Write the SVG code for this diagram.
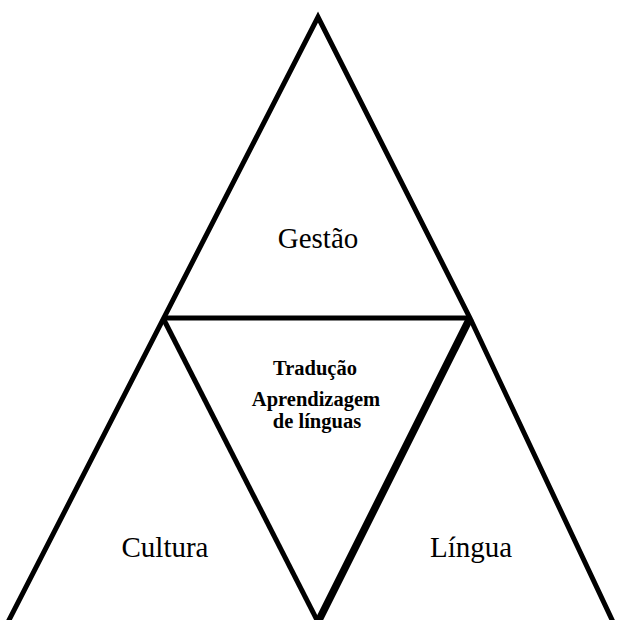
<svg xmlns="http://www.w3.org/2000/svg" width="617" height="620" viewBox="0 0 617 620">
  <style>
    .edge { stroke: #000; stroke-width: 5; fill: none; stroke-linecap: butt; stroke-linejoin: miter; stroke-miterlimit: 10; }
    .thick { stroke-width: 7.5; }
    .label { font-family: "Liberation Serif", "Times New Roman", serif; font-size: 29px; fill: #000; text-anchor: middle; }
    .core { font-family: "Liberation Serif", "Times New Roman", serif; font-size: 20.5px; font-weight: bold; fill: #000; text-anchor: middle; }
  </style>
  <rect width="617" height="620" fill="#fff"/>
  <g id="connectors">
    <polyline class="edge" points="7,624 318,17 470,318 614,624"/>
    <line class="edge" x1="163" y1="318" x2="470" y2="318"/>
    <line class="edge" x1="163" y1="318" x2="318" y2="622"/>
    <line class="edge thick" x1="470" y1="318" x2="318" y2="622"/>
  </g>
  <g id="gestao">
    <text class="label" x="318" y="248">Gestão</text>
  </g>
  <g id="cultura">
    <text class="label" x="165" y="557">Cultura</text>
  </g>
  <g id="lingua">
    <text class="label" x="471" y="557">Língua</text>
  </g>
  <g id="centro">
    <text class="core" x="315" y="375">Tradução</text>
    <text class="core" x="316" y="406">Aprendizagem</text>
    <text class="core" x="317" y="428">de línguas</text>
  </g>
</svg>
